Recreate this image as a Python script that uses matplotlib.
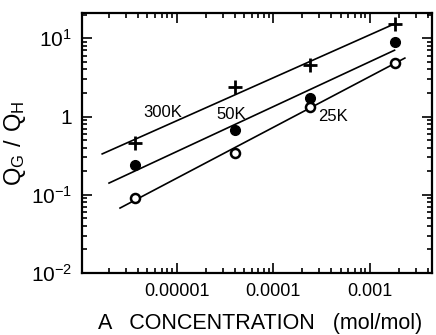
import matplotlib
matplotlib.use("Agg")
import matplotlib.pyplot as plt
import numpy as np

# values
conc = [3.7e-6, 4.0e-5, 2.4e-4, 1.8e-3]          # A concentration (mol/mol)
q_300k = [0.46, 2.35, 4.6, 15.0]
q_50k = [0.24, 0.68, 1.7, 8.9]
q_25k = [0.092, 0.345, 1.34, 4.9]
labels = ["300K", "50K", "25K"]
xticks = [1e-5, 1e-4, 1e-3]
xticklabels = ["0.00001", "0.0001", "0.001"]
yticks = [1e-2, 1e-1, 1, 1e1]
yticklabels = [r"$\mathregular{10^{-2}}$", r"$\mathregular{10^{-1}}$", "1", r"$\mathregular{10^{1}}$"]

plt.rcParams['font.family'] = ['Liberation Sans', 'DejaVu Sans']

fig = plt.figure(figsize=(4.36, 3.35), dpi=100)
ax = fig.add_axes([0.188, 0.185, 0.803, 0.776])


def fit_line(x, y, x0, x1):
    lx, ly = np.log10(x), np.log10(y)
    k, b = np.polyfit(lx, ly, 1)
    xs = np.array([x0, x1])
    return xs, 10 ** (k * np.log10(xs) + b)


# fitted lines
xs, ys = fit_line(conc, q_300k, 1.7e-6, 1.8e-3)
ax.plot(xs, ys, color='black', lw=1.2)
xs, ys = fit_line(conc, q_50k, 2.0e-6, 1.8e-3)
ax.plot(xs, ys, color='black', lw=1.2)
xs, ys = fit_line(conc, q_25k, 2.6e-6, 2.3e-3)
ax.plot(xs, ys, color='black', lw=1.2)

# data points
ax.plot(conc, q_300k, linestyle='none', marker='+', ms=10, mew=2.0, color='black')
ax.plot(conc, q_50k, linestyle='none', marker='o', ms=7, color='black')
ax.plot(conc, q_25k, linestyle='none', marker='o', ms=6.5, mfc='white', mec='black', mew=1.8)

# temperature labels
ax.text(4.5e-6, 1.12, labels[0], fontsize=12, va='center', ha='left')
ax.text(2.6e-5, 1.05, labels[1], fontsize=12, va='center', ha='left')
ax.text(2.9e-4, 1.0, labels[2], fontsize=12, va='center', ha='left')

ax.set_xscale('log')
ax.set_yscale('log')
ax.set_xlim(1.05e-6, 4.4e-3)
ax.set_ylim(1e-2, 21)

ax.set_xticks(xticks)
ax.set_xticklabels(xticklabels, fontsize=13)
ax.set_yticks(yticks)
ax.set_yticklabels(yticklabels, fontsize=15)

ax.tick_params(which='both', direction='in', top=True, right=True, width=1.2)
ax.tick_params(which='major', length=7, pad=7)
ax.tick_params(which='minor', length=3.5)
for s in ax.spines.values():
    s.set_linewidth(1.6)

ax.set_xlabel("A   CONCENTRATION   (mol/mol)", fontsize=15.5)
ax.xaxis.set_label_coords(0.51, -0.155)
ax.set_ylabel(r"$\mathregular{Q_G\ /\ Q_H}$", fontsize=17, labelpad=2)

fig.savefig("out.png", dpi=100)
